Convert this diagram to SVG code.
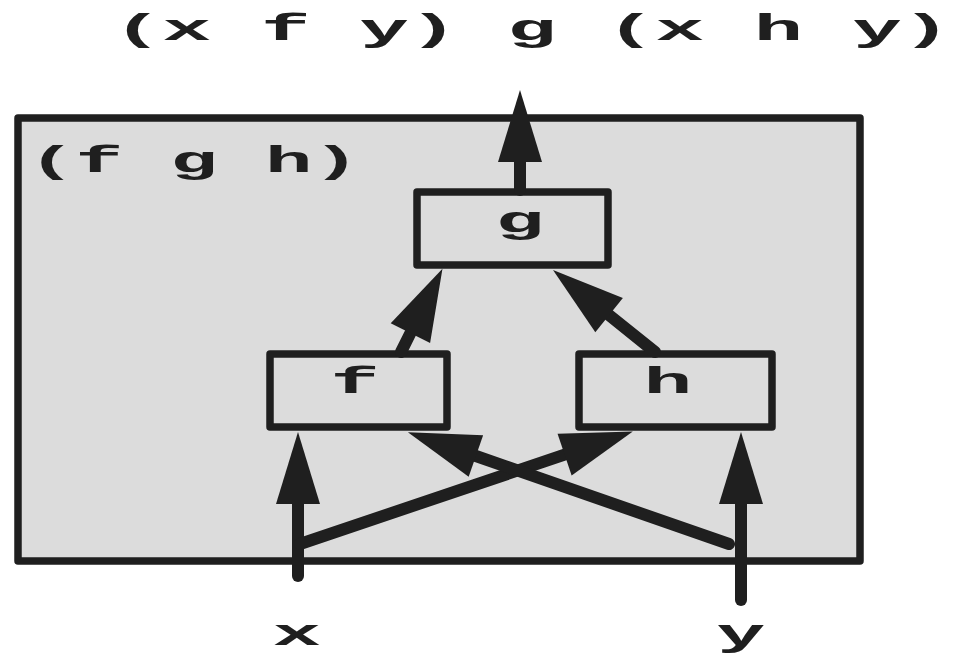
<svg xmlns="http://www.w3.org/2000/svg" width="979" height="664" viewBox="0 0 979 664">
<style>
.t{font-family:"Liberation Mono","Courier New",monospace;font-weight:bold;font-size:37px;fill:#1f1f1f}
.box{fill:#dcdcdc;stroke:#1f1f1f;stroke-width:7.5;stroke-linejoin:round}
.c{stroke:#1f1f1f;stroke-width:12;stroke-linecap:round;fill:none;marker-end:url(#ah)}
</style>
<defs>
<marker id="ah" markerUnits="userSpaceOnUse" markerWidth="80" markerHeight="50" refX="0" refY="22" orient="auto" overflow="visible">
<path d="M0,0 L72,22 L0,44 Z" fill="#1f1f1f"/>
</marker>
</defs>
<rect width="979" height="664" fill="#ffffff"/>
<g id="title"><text class="t" x="113" y="40" textLength="838" lengthAdjust="spacingAndGlyphs">(x f y) g (x h y)</text></g>
<g id="outer">
<rect class="box" x="18" y="118" width="842" height="443" stroke-width="8"/>
<text class="t" x="28" y="172" textLength="332" lengthAdjust="spacingAndGlyphs">(f g h)</text>
</g>
<g id="node-g">
<rect class="box" x="417" y="192" width="191" height="73"/>
<text class="t" text-anchor="middle" transform="translate(520,232) scale(2.2,1)">g</text>
</g>
<g id="node-f">
<rect class="box" x="270" y="354" width="177" height="73"/>
<text class="t" text-anchor="middle" transform="translate(355,393) scale(2.2,1)">f</text>
</g>
<g id="node-h">
<rect class="box" x="579" y="354" width="193" height="73"/>
<text class="t" text-anchor="middle" transform="translate(668,393) scale(2.2,1)">h</text>
</g>
<g id="connectors">
<line class="c" x1="520" y1="190" x2="520" y2="162"/>
<line class="c" x1="401" y1="352" x2="410.4" y2="333.1"/>
<line class="c" x1="655" y1="352" x2="609.1" y2="315.1"/>
<line class="c" x1="298" y1="576" x2="298" y2="504"/>
<line class="c" x1="741" y1="600" x2="741" y2="504"/>
<line class="c" x1="300" y1="544" x2="564.6" y2="454.6"/>
<line class="c" x1="729" y1="544" x2="475.9" y2="456"/>
</g>
<g id="input-x"><text class="t" text-anchor="middle" transform="translate(297,645) scale(2.2,1)">x</text></g>
<g id="input-y"><text class="t" text-anchor="middle" transform="translate(741,645) scale(2.2,1)">y</text></g>
</svg>
